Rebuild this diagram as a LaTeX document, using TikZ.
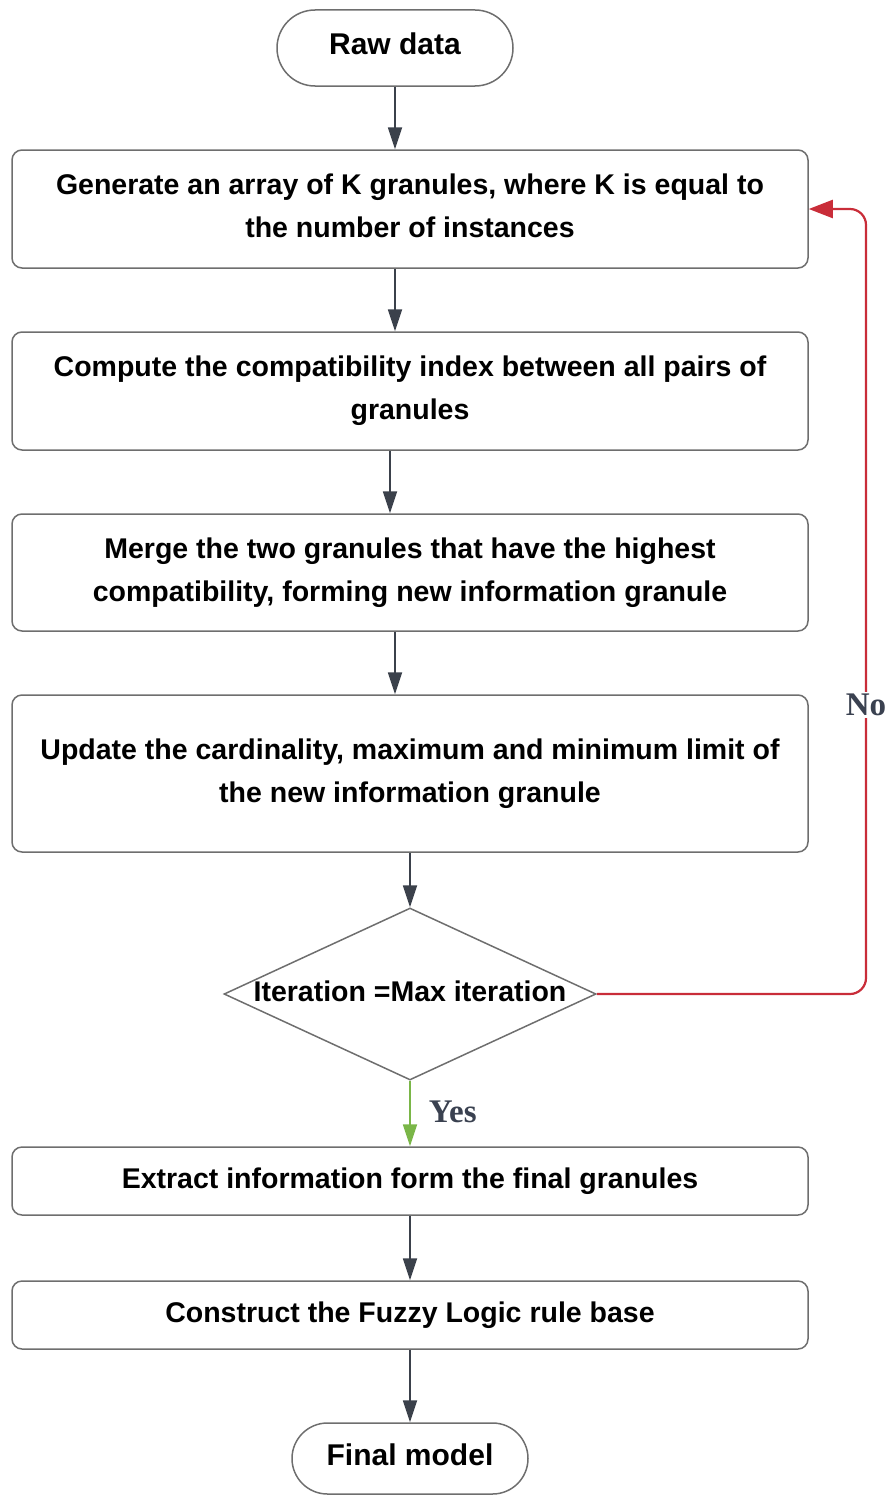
\documentclass[tikz,border=0pt]{standalone}
\usepackage{fontspec}
\setmainfont{Liberation Sans}
\newfontfamily\labelfont{Liberation Serif}
\usetikzlibrary{arrows.meta,shapes.geometric,shapes.misc}

\definecolor{edgegrey}{HTML}{6E6E6E}
\definecolor{arrowdark}{HTML}{3B414B}
\definecolor{loopred}{HTML}{C92D39}
\definecolor{yesgreen}{HTML}{7AB648}
\definecolor{labelslate}{HTML}{3A4150}

\tikzset{
  procbox/.style={draw=edgegrey, line width=1.5pt, rounded corners=10pt,
    minimum width=796pt, align=center, inner sep=0pt,
    font=\fontsize{28.5}{43}\selectfont\bfseries,
    execute at end node={\rule[-6pt]{0pt}{6pt}}},
  terminal/.style={draw=edgegrey, line width=1.5pt, rounded rectangle,
    minimum width=236pt, inner sep=0pt,
    font=\fontsize{30}{36}\selectfont\bfseries,
    execute at end node={\rule[-8pt]{0pt}{8pt}}},
  flow/.style={draw=arrowdark, line width=1.8pt,
    -{Triangle[length=22pt,width=14pt]}},
  branchlabel/.style={font=\labelfont\fontsize{33}{36}\selectfont\bfseries,
    text=labelslate, inner sep=2pt}
}

\begin{document}
\begin{tikzpicture}[x=1pt,y=-1pt]
  \useasboundingbox (0,0) rectangle (892,1496);

  % start / end terminals
  \node[terminal, minimum height=76pt] (raw) at (395,48) {Raw data};
  \node[terminal, minimum height=71pt] (final) at (410,1458.5) {Final model};

  % process steps
  \node[procbox, minimum height=118pt] (gen) at (410,209)
    {Generate an array of K granules, where K is equal to\\the number of instances};
  \node[procbox, minimum height=118pt] (comp) at (410,391)
    {Compute the compatibility index between all pairs of\\granules};
  \node[procbox, minimum height=117pt] (merge) at (410,572.5)
    {Merge the two granules that have the highest\\compatibility, forming new information granule};
  \node[procbox, minimum height=157pt] (upd) at (410,773.5)
    {Update the cardinality, maximum and minimum limit of\\the new information granule};

  % stopping test
  \node[diamond, draw=edgegrey, line width=1.5pt, minimum width=372pt,
        minimum height=172pt, aspect=2.16, inner sep=0pt] (test) at (410,994) {};
  \node[font=\fontsize{28.5}{34}\selectfont\bfseries] at ([yshift=3pt]test.center)
    {Iteration =Max iteration};

  \node[procbox, minimum height=68pt] (extract) at (410,1181)
    {Extract information form the final granules};
  \node[procbox, minimum height=68pt] (rules) at (410,1315)
    {Construct the Fuzzy Logic rule base};

  % main flow
  \draw[flow] (raw.south) -- (raw.south |- gen.north);
  \draw[flow] ([xshift=-15pt]gen.south) -- ([xshift=-15pt]comp.north);
  \draw[flow] ([xshift=-20pt]comp.south) -- ([xshift=-20pt]merge.north);
  \draw[flow] ([xshift=-15pt]merge.south) -- ([xshift=-15pt]upd.north);
  \draw[flow] (upd.south) -- (test.north);
  \draw[flow, draw=yesgreen] (test.south) -- (extract.north)
    node[pos=0.5, right=16pt, yshift=2pt, branchlabel] {Yes};
  \draw[flow] (extract.south) -- (rules.north);
  \draw[flow] (rules.south) -- (final.north);

  % loop back when the limit is not reached
  \coordinate (loopcorner) at (866,994);
  \draw[draw=loopred, line width=2.2pt, rounded corners=16pt,
        -{Triangle[length=24pt,width=18pt]}]
    (test.east) -- (loopcorner) |- (gen.east);
  \node[branchlabel, fill=white] (nolabel) at (866,705) {No};
\end{tikzpicture}
\end{document}
